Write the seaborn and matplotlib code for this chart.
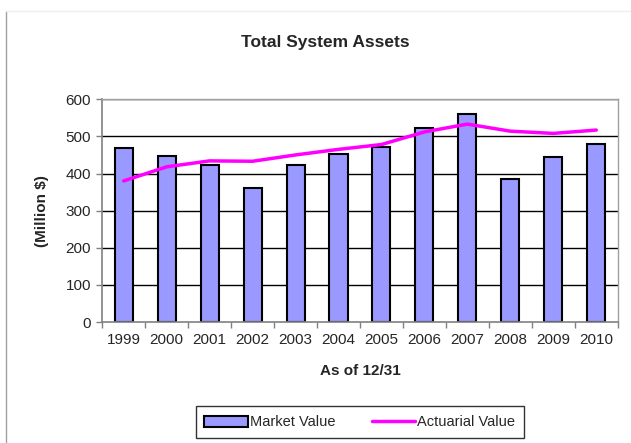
import matplotlib
matplotlib.use("Agg")
import matplotlib.pyplot as plt
import numpy as np
import pandas as pd
import seaborn as sns
from matplotlib.lines import Line2D
from matplotlib.patches import Patch

years = ["1999", "2000", "2001", "2002", "2003", "2004",
         "2005", "2006", "2007", "2008", "2009", "2010"]
market_value = [470, 448, 424, 361, 424, 452, 472, 523, 560, 386, 445, 480]
actuarial_value = [380, 418, 434, 433, 450, 465, 478, 512, 533, 514, 508, 517]
y_ticks = [0, 100, 200, 300, 400, 500, 600]

sns.set_theme(style="white")
plt.rcParams['font.family'] = ['Liberation Sans', 'DejaVu Sans']

df = pd.DataFrame({"year": years, "market": market_value, "actuarial": actuarial_value})

fig = plt.figure(figsize=(6.31, 4.43), dpi=100)
ax = fig.add_axes([0.162, 0.273, 0.817, 0.503])

# Outer chart frame remnants (left edge and faint top edge)
fig.add_artist(Line2D([0.0103, 0.0103], [0.0, 0.975], transform=fig.transFigure,
                      color='#A0A0A0', linewidth=1))
fig.add_artist(Line2D([0.0103, 1.0], [0.975, 0.975], transform=fig.transFigure,
                      color='#EEEEEE', linewidth=1))

# Horizontal grid lines behind the bars
for t in y_ticks[1:]:
    ax.axhline(t, color='black', linewidth=1, zorder=0)

sns.barplot(data=df, x="year", y="market", color="#9999FF", saturation=1,
            width=0.42, edgecolor='black', linewidth=1.5, ax=ax, zorder=2)

# Actuarial value line at the category positions
sns.lineplot(x=np.arange(len(years)), y=df["actuarial"], color="#FF00FF",
             linewidth=2.5, ax=ax, zorder=3)

ax.set_xlim(-0.5, len(years) - 0.5)
ax.set_ylim(0, 600)
ax.set_yticks(y_ticks)
ax.set_yticklabels([str(t) for t in y_ticks], fontsize=11)
ax.set_xticks(np.arange(len(years)))
ax.set_xticklabels(years, fontsize=11)
ax.tick_params(axis='x', length=0, pad=8)
ax.tick_params(axis='y', length=4, width=1, color='#808080', direction='out', left=True, pad=4)

# Excel-style tick marks between categories
ax.set_xticks(np.arange(-0.5, len(years), 1), minor=True)
ax.tick_params(axis='x', which='minor', length=4, width=1, color='#808080', direction='out', bottom=True)

for side in ["left", "bottom"]:
    ax.spines[side].set_color('#808080')
    ax.spines[side].set_linewidth(1.2)
for side in ["top", "right"]:
    ax.spines[side].set_visible(True)
    ax.spines[side].set_color('#A0A0A0')
    ax.spines[side].set_linewidth(1)

ax.set_xlabel("As of 12/31", fontsize=11, fontweight='bold', labelpad=12)
ax.set_ylabel("(Million $)", fontsize=11, fontweight='bold', labelpad=12)
fig.text(0.516, 0.903, "Total System Assets", ha='center', va='center',
         fontsize=12.5, fontweight='bold')

handles = [
    Patch(facecolor="#9999FF", edgecolor='black', linewidth=1.5, label="Market Value"),
    Line2D([0], [0], color="#FF00FF", linewidth=2.5, label="Actuarial Value"),
]
leg = fig.legend(handles=handles, loc='center', bbox_to_anchor=(0.57, 0.047),
                 ncol=2, fontsize=10.5, frameon=True, fancybox=False,
                 handlelength=3, handleheight=0.8, handletextpad=0.1,
                 columnspacing=2.5, borderpad=0.6)
leg.get_frame().set_edgecolor('black')
leg.get_frame().set_linewidth(1)

plt.savefig("out.png", dpi=100)
plt.close()
